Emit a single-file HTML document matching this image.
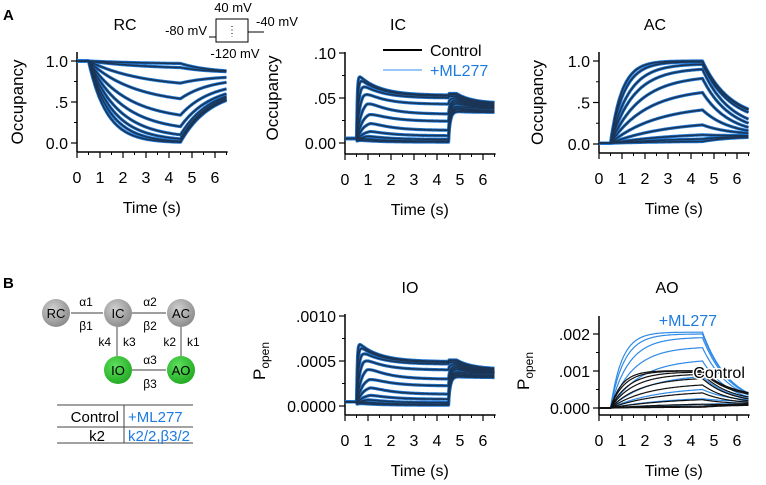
<!DOCTYPE html>
<html><head><meta charset="utf-8">
<style>
html,body{margin:0;padding:0;background:#fff;}
svg{display:block;font-family:"Liberation Sans",Arial,sans-serif;}
</style></head>
<body>
<svg id="fig" width="766" height="485" viewBox="0 0 766 485" xmlns="http://www.w3.org/2000/svg">
<g id="static">
<text x="3" y="20" font-size="15" font-weight="bold">A</text>
<text x="3" y="288" font-size="15" font-weight="bold">B</text>
<g font-size="13">
<text x="233" y="12" text-anchor="middle">40 mV</text>
<text x="207" y="35" text-anchor="end">-80 mV</text>
<text x="256" y="26">-40 mV</text>
<text x="235" y="58" text-anchor="middle">-120 mV</text>
<path d="M209 37H216V19H248V32H264" fill="none" stroke="#000" stroke-width="1"/>
<path d="M216 19V42H248V19" fill="none" stroke="#000" stroke-width="1"/>
<line x1="232" y1="26" x2="232" y2="37" stroke="#000" stroke-dasharray="1,2.5"/>
</g>
<g font-size="16">
<line x1="383" y1="50" x2="422" y2="50" stroke="#000" stroke-width="2"/>
<text x="430" y="56">Control</text>
<line x1="383" y1="70" x2="422" y2="70" stroke="#5aa8f0" stroke-width="1.2"/>
<text x="430" y="76" fill="#1e7be0">+ML277</text>
</g>
<g font-size="12">
<defs>
<radialGradient id="gg" cx="0.4" cy="0.35" r="0.7"><stop offset="0" stop-color="#d0d0d0"/><stop offset="1" stop-color="#888"/></radialGradient>
<radialGradient id="gn" cx="0.4" cy="0.35" r="0.7"><stop offset="0" stop-color="#5fe05f"/><stop offset="1" stop-color="#1fa81f"/></radialGradient>
</defs>
<g stroke="#666" stroke-width="1.2" fill="none">
<line x1="71" y1="313" x2="103" y2="313"/><line x1="132" y1="313" x2="166" y2="313"/>
<line x1="117" y1="327" x2="117" y2="356"/><line x1="181" y1="327" x2="181" y2="356"/>
<line x1="132" y1="370" x2="166" y2="370"/>
</g>
<circle cx="56" cy="313" r="14" fill="url(#gg)"/>
<circle cx="118" cy="313" r="14" fill="url(#gg)"/>
<circle cx="181" cy="313" r="14" fill="url(#gg)"/>
<circle cx="118" cy="370" r="14" fill="url(#gn)"/>
<circle cx="181" cy="370" r="14" fill="url(#gn)"/>
<g font-size="13" text-anchor="middle">
<text x="56" y="318">RC</text><text x="118" y="318">IC</text><text x="181" y="318">AC</text>
<text x="118" y="375">IO</text><text x="181" y="375">AO</text>
</g>
<text x="86" y="306" text-anchor="middle">α1</text><text x="86" y="330" text-anchor="middle">β1</text>
<text x="150" y="306" text-anchor="middle">α2</text><text x="150" y="330" text-anchor="middle">β2</text>
<text x="150" y="364" text-anchor="middle">α3</text><text x="150" y="388" text-anchor="middle">β3</text>
<text x="111" y="346" text-anchor="end">k4</text><text x="123" y="346">k3</text>
<text x="176" y="346" text-anchor="end">k2</text><text x="187" y="346">k1</text>
</g>
<g font-size="15">
<line x1="57" y1="405" x2="193" y2="405" stroke="#444"/>
<line x1="57" y1="427" x2="193" y2="427" stroke="#444"/>
<line x1="57" y1="443" x2="193" y2="443" stroke="#444"/>
<line x1="124" y1="405" x2="124" y2="443" stroke="#444"/>
<text x="119" y="422" text-anchor="end">Control</text>
<text x="128" y="422" fill="#1e7be0">+ML277</text>
<text x="97" y="441" text-anchor="middle">k2</text>
<text x="128" y="441" fill="#1e7be0">k2/2,β3/2</text>
</g>
</g>
<g id="plots"></g>
</svg>
<script>
const tOn = 0.5, tOff = 4.5, tEnd = 6.5;
// RC: value at end of pulse, value at 6.5s, pulse tau
const rcPulse = [0.97, 0.92, 0.73, 0.54, 0.34, 0.2, 0.1, 0.05, 0.02, 0.01];
const rcEnd = [0.88, 0.87, 0.8, 0.74, 0.66, 0.6, 0.57, 0.55, 0.53, 0.52];
const rcTau = [3, 2.6, 2.3, 2.0, 1.7, 1.5, 1.3, 1.1, 0.95, 0.8];
// IC: peak, level at 4.5, rise tau, post-pulse peak, value at 6.5
const icPeak = [0.076, 0.072, 0.066, 0.058, 0.048, 0.035, 0.024, 0.014, 0.008, 0.005, 0.003];
const icLevel = [0.053, 0.052, 0.05, 0.043, 0.032, 0.024, 0.014, 0.008, 0.004, 0.002, 0.001];
const icRise = [0.07, 0.12, 0.2, 0.3, 0.45, 0.55, 0.6, 0.6, 0.5, 0.3, 0.2];
const icPost = [0.055, 0.054, 0.052, 0.05, 0.048, 0.046, 0.044, 0.041, 0.039, 0.037, 0.035];
const icEnd = [0.044, 0.044, 0.043, 0.042, 0.041, 0.04, 0.039, 0.038, 0.036, 0.035, 0.034];
// AC: value at 4.5, value at 6.5, rise tau
const acPulse = [1.0, 0.99, 0.96, 0.9, 0.79, 0.62, 0.41, 0.23, 0.11, 0.06, 0.03];
const acEnd = [0.42, 0.41, 0.38, 0.3, 0.25, 0.2, 0.16, 0.13, 0.1, 0.09, 0.08];
const acTau = [0.5, 0.6, 0.8, 1.0, 1.3, 1.6, 2.0, 2.5, 3, 3, 3];
// AO
const aoCtrlScale = 0.00102;
const aoMlPulse = [0.00205, 0.002, 0.0019, 0.00163, 0.00127, 0.00085, 0.0005, 0.00025, 0.0001, 0.00005];
const aoMlEnd = [0.0004, 0.0004, 0.00038, 0.00035, 0.0003, 0.00026, 0.00022, 0.00018, 0.00012, 0.0001];
const aoMlTau = [0.5, 0.6, 0.8, 1.0, 1.3, 1.6, 2.0, 2.5, 3, 3];
// Tick labels
const xTicks = [0, 1, 2, 3, 4, 5, 6];
const occTicks = [[0, "0.0"], [0.5, ".5"], [1, "1.0"]];
const icTicks = [[0, "0.00"], [0.05, ".05"], [0.1, ".10"]];
const ioTicks = [[0, "0.0000"], [0.0005, ".0005"], [0.001, ".0010"]];
const aoTicks = [[0, "0.000"], [0.001, ".001"], [0.002, ".002"]];

const NS = "http://www.w3.org/2000/svg";
const plots = document.getElementById("plots");
function mk(tag, attrs, parent) {
  const e = document.createElementNS(NS, tag);
  for (const k in attrs) e.setAttribute(k, attrs[k]);
  (parent || plots).appendChild(e);
  return e;
}
const ts = [];
for (let t = 0; t <= tEnd + 1e-9; t += 0.025) ts.push(+t.toFixed(3));

function panel(p) {
  const g = mk("g", {});
  
  
  const X = t => p.x0 + t * 23;
  const Y = v => p.yZero - (v / p.yMax) * (p.yZero - p.yTop);
  p.X = X; p.Y = Y;
  const tt = mk("text", {x: p.titleX, y: p.titleY, "font-size": 16, "text-anchor": "middle"}, g);
  tt.textContent = p.title;
  
  
  const ya = mk("line", {x1: p.x0, x2: p.x0, y1: p.yAxisTop, y2: p.xAxisY, stroke: "#000", "stroke-width": 1.5}, g);
  
  
  const xa = mk("line", {x1: p.x0, x2: X(6.55), y1: p.xAxisY, y2: p.xAxisY, stroke: "#000", "stroke-width": 1.5}, g);
  
  
  p.ticks.forEach(([v, lab], i) => {
    mk("line", {x1: p.x0 - 6, x2: p.x0, y1: Y(v), y2: Y(v), stroke: "#000", "stroke-width": 1.2}, g);
    if (i < p.ticks.length - 1) {
      const m = (v + p.ticks[i + 1][0]) / 2;
      mk("line", {x1: p.x0 - 3, x2: p.x0, y1: Y(m), y2: Y(m), stroke: "#000", "stroke-width": 1}, g);
    }
    const tl = mk("text", {x: p.x0 - 9, y: Y(v) + 6, "font-size": 16, "text-anchor": "end"}, g);
    tl.textContent = lab;
    
    
  });
  xTicks.forEach(t => {
    mk("line", {x1: X(t), x2: X(t), y1: p.xAxisY, y2: p.xAxisY + 6, stroke: "#000", "stroke-width": 1.2}, g);
    mk("line", {x1: X(t + 0.5), x2: X(t + 0.5), y1: p.xAxisY, y2: p.xAxisY + 3, stroke: "#000", "stroke-width": 1}, g);
    const xl = mk("text", {x: X(t), y: p.xAxisY + 31, "font-size": 16, "text-anchor": "middle"}, g);
    xl.textContent = t;
    
    
  });
  const xt = mk("text", {x: X(3.25), y: p.xAxisY + 61, "font-size": 16, "text-anchor": "middle"}, g);
  xt.textContent = "Time (s)";
  
  
  const yt = mk("text", {transform: `translate(${p.x0 - p.yTitleOff},${(p.yTop + p.yZero) / 2}) rotate(-90)`, "font-size": 17, "text-anchor": "middle"}, g);
  if (p.popen) {
    yt.innerHTML = 'P<tspan font-size="12" dy="4">open</tspan>';
  } else yt.textContent = "Occupancy";
  
  
  return g;
}
function drawSeries(g, p, fn, n, color, width, name) {
  for (let i = 0; i < n; i++) {
    const d = ts.map((t, j) => (j ? "L" : "M") + p.X(t).toFixed(1) + " " + p.Y(fn(i, t)).toFixed(1)).join("");
    const e = mk("path", {d: d, fill: "none", stroke: color, "stroke-width": width, "stroke-linejoin": "round"}, g);
    
    
  }
}
function sat(s, tau) { return (1 - Math.exp(-s / tau)) / (1 - Math.exp(-4 / tau)); }
function post(u, tau) { return (1 - Math.exp(-u / tau)) / (1 - Math.exp(-2 / tau)); }

function rcF(i, t) {
  if (t <= tOn) return 1;
  if (t <= tOff) return 1 + (rcPulse[i] - 1) * sat(t - tOn, rcTau[i]);
  return rcPulse[i] + (rcEnd[i] - rcPulse[i]) * post(t - tOff, 1.3);
}
function icF(i, t) {
  const base = 0.005;
  if (t <= tOn) return base;
  if (t <= tOff) {
    const s = t - tOn, tr = icRise[i];
    const dec = icLevel[i] + (icPeak[i] - icLevel[i]) * Math.exp(-Math.max(0, s - tr) / 0.9);
    return 0.002 + (dec - 0.002) * (1 - Math.exp(-s / (tr * 0.45)));
  }
  const u = t - tOff, L = icLevel[i] + 0.002;
  const target = icEnd[i] + (icPost[i] - icEnd[i]) * Math.exp(-Math.max(0, u - 0.35) / 0.7);
  return L + (target - L) * (1 - Math.exp(-u / 0.08));
}
function acF(i, t) {
  if (t <= tOn) return 0.01;
  if (t <= tOff) return 0.01 + (acPulse[i] - 0.01) * sat(t - tOn, acTau[i]);
  return acPulse[i] + (acEnd[i] - acPulse[i]) * post(t - tOff, 1.2);
}
function aoMlF(i, t) {
  if (t <= tOn) return 0;
  if (t <= tOff) return aoMlPulse[i] * sat(t - tOn, aoMlTau[i]);
  return aoMlPulse[i] + (aoMlEnd[i] - aoMlPulse[i]) * post(t - tOff, 1.2);
}

const BLUE = "#1f78d6", NAVY = "#1b3556";
const P = {
  rc: {name: "rc", title: "RC", titleX: 125, titleY: 30, x0: 77, yZero: 143, yTop: 61, yMax: 1, yAxisTop: 52, xAxisY: 152, ticks: occTicks, yTitleOff: 54},
  ic: {name: "ic", title: "IC", titleX: 398, titleY: 30, x0: 345, yZero: 143, yTop: 53, yMax: 0.1, yAxisTop: 52, xAxisY: 154, ticks: icTicks, yTitleOff: 67},
  ac: {name: "ac", title: "AC", titleX: 655, titleY: 30, x0: 599, yZero: 144, yTop: 61, yMax: 1, yAxisTop: 52, xAxisY: 153, ticks: occTicks, yTitleOff: 56},
  io: {name: "io", title: "IO", titleX: 410, titleY: 293, x0: 345, yZero: 406, yTop: 316, yMax: 0.001, yAxisTop: 314, xAxisY: 415, ticks: ioTicks, popen: true, yTitleOff: 80},
  ao: {name: "ao", title: "AO", titleX: 667, titleY: 293, x0: 599, yZero: 408, yTop: 334, yMax: 0.002, yAxisTop: 316, xAxisY: 415, ticks: aoTicks, popen: true, yTitleOff: 70}
};
let g;
g = panel(P.rc);
drawSeries(g, P.rc, rcF, rcPulse.length, BLUE, 3.2, "rc-trace-ml277");
drawSeries(g, P.rc, rcF, rcPulse.length, NAVY, 1.6, "rc-trace-control");
g = panel(P.ic);
drawSeries(g, P.ic, icF, icPeak.length, BLUE, 3.2, "ic-trace-ml277");
drawSeries(g, P.ic, icF, icPeak.length, NAVY, 1.6, "ic-trace-control");
g = panel(P.ac);
drawSeries(g, P.ac, acF, acPulse.length, BLUE, 3.2, "ac-trace-ml277");
drawSeries(g, P.ac, acF, acPulse.length, NAVY, 1.6, "ac-trace-control");
g = panel(P.io);
const ioF = (i, t) => icF(i, t) * 0.0093;
drawSeries(g, P.io, ioF, icPeak.length, BLUE, 3.2, "io-trace-ml277");
drawSeries(g, P.io, ioF, icPeak.length, NAVY, 1.6, "io-trace-control");
g = panel(P.ao);
drawSeries(g, P.ao, aoMlF, aoMlPulse.length, "#2f8ae6", 1.2, "ao-trace-ml277");
drawSeries(g, P.ao, (i, t) => Math.max(0, acF(i, t) - 0.01) * aoCtrlScale, acPulse.length, "#111", 1.2, "ao-trace-control");
let lab = mk("text", {x: P.ao.X(2.6), y: 326, "font-size": 16, fill: "#1e7be0"}, g);
lab.textContent = "+ML277";


lab = mk("text", {x: P.ao.X(4.1), y: 378, "font-size": 16, fill: "#000", stroke: "#fff", "stroke-width": 3, "paint-order": "stroke"}, g);
lab.textContent = "Control";


</script>
</body></html>
